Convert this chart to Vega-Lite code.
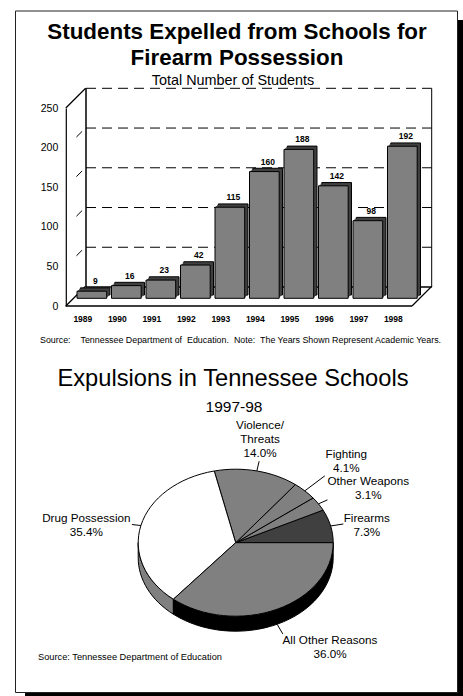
{
  "$schema": "https://vega.github.io/schema/vega-lite/v6.json",
  "width": 463,
  "height": 696,
  "padding": 0,
  "autosize": "none",
  "background": "white",
  "config": {
    "view": {"stroke": null},
    "font": "Liberation Sans",
    "axis": {"labelFont": "Liberation Sans", "labelColor": "black", "titleColor": "black", "grid": false}
  },
  "resolve": {"scale": {"x": "independent", "y": "independent"}, "axis": {"x": "independent", "y": "independent"}},
  "datasets": {
    "students": [
      {"year": "1989", "students": 9},
      {"year": "1990", "students": 16},
      {"year": "1991", "students": 23},
      {"year": "1992", "students": 42},
      {"year": "1993", "students": 115},
      {"year": "1994", "students": 160},
      {"year": "1995", "students": 188},
      {"year": "1996", "students": 142},
      {"year": "1997", "students": 98},
      {"year": "1998", "students": 192}
    ],
    "reasons": [
      {"rank": 0, "reason": "Firearms", "share": 7.3},
      {"rank": 1, "reason": "Other Weapons", "share": 3.1},
      {"rank": 2, "reason": "Fighting", "share": 4.1},
      {"rank": 3, "reason": "Violence/\nThreats", "share": 14.0},
      {"rank": 4, "reason": "Drug Possession", "share": 35.4},
      {"rank": 5, "reason": "All Other Reasons", "share": 36.0}
    ]
  },
  "layer": [
    {
      "description": "Sheet with its drop shadow",
      "data": {"values": [{"panel": "sheet"}]},
      "layer": [
        {"mark": {"type": "rect", "x": 25, "x2": 463, "y": 20, "y2": 696, "fill": "black"}, "encoding": {}},
        {"mark": {"type": "rect", "x": 15.5, "x2": 457.5, "y": 11, "y2": 692.5, "fill": "white", "stroke": "#222222", "strokeWidth": 1}, "encoding": {}}
      ]
    },
    {
      "description": "Dashed lines across the back wall",
      "data": {"values": [{"tick": 50}, {"tick": 100}, {"tick": 150}, {"tick": 200}, {"tick": 250}]},
      "mark": {"type": "rule", "stroke": "black", "strokeWidth": 1, "strokeDash": [10, 6]},
      "encoding": {
        "y": {"field": "tick", "type": "quantitative", "scale": {"domain": [0, 250], "range": [287, 88.3]}, "axis": null},
        "x": {"datum": 0, "type": "quantitative", "scale": {"domain": [0, 1], "range": [86, 431.7]}, "axis": null},
        "x2": {"datum": 1}
      }
    },
    {
      "description": "Solid bottom edge of the back wall",
      "data": {"values": [{"tick": 0}]},
      "mark": {"type": "rule", "stroke": "black", "strokeWidth": 1.5},
      "encoding": {
        "y": {"field": "tick", "type": "quantitative", "scale": {"domain": [0, 250], "range": [287, 88.3]}, "axis": null},
        "x": {"datum": 0, "type": "quantitative", "scale": {"domain": [0, 1], "range": [86, 431.7]}, "axis": null},
        "x2": {"datum": 1}
      }
    },
    {
      "description": "Vertical edges of the back wall",
      "data": {"values": [{"edge": 0, "w": 1.5}, {"edge": 1, "w": 1}]},
      "mark": {"type": "rule", "stroke": "black"},
      "encoding": {
        "x": {"field": "edge", "type": "quantitative", "scale": {"domain": [0, 1], "range": [86, 431.7]}, "axis": null},
        "y": {"datum": 0, "type": "quantitative", "scale": {"domain": [0, 250], "range": [287, 88.3]}, "axis": null},
        "y2": {"datum": 250},
        "strokeWidth": {"field": "w", "type": "quantitative", "scale": null, "legend": null}
      }
    },
    {
      "description": "Front value axis and the solid receding edges",
      "data": {"values": [{"tick": 0, "edge": 0}, {"tick": 250, "edge": 0}, {"tick": 0, "edge": 1}]},
      "mark": {"type": "rule", "stroke": "black", "strokeWidth": 1.2, "x2Offset": 19.8, "y2Offset": -19.7},
      "encoding": {
        "y": {
          "field": "tick", "type": "quantitative",
          "scale": {"domain": [0, 250], "range": [306, 108]},
          "axis": {"values": [0, 50, 100, 150, 200, 250], "orient": "left", "offset": -65.8, "zindex": 1, "title": null, "labelFontSize": 10.5, "tickSize": 0, "labelPadding": 8, "domainColor": "black", "domainWidth": 1.2}
        },
        "y2": {"field": "tick"},
        "x": {"field": "edge", "type": "quantitative", "scale": {"domain": [0, 1], "range": [65.8, 412]}, "axis": null},
        "x2": {"field": "edge"}
      }
    },
    {
      "description": "Front edge of the floor",
      "data": {"values": [{"tick": 0}]},
      "mark": {"type": "rule", "stroke": "black", "strokeWidth": 1.5},
      "encoding": {
        "y": {"field": "tick", "type": "quantitative", "scale": {"domain": [0, 250], "range": [306, 108]}, "axis": null},
        "x": {"datum": 0, "type": "quantitative", "scale": {"domain": [0, 1], "range": [65.8, 412]}, "axis": null},
        "x2": {"datum": 1}
      }
    },
    {
      "description": "Short dashes where the gridlines cross the side wall",
      "data": {"values": [{"tick": 50}, {"tick": 100}, {"tick": 150}, {"tick": 200}]},
      "mark": {"type": "rule", "stroke": "black", "strokeWidth": 1, "strokeDash": [0, 15, 8, 60], "x2Offset": 19.8, "y2Offset": -19.7},
      "encoding": {
        "y": {"field": "tick", "type": "quantitative", "scale": {"domain": [0, 250], "range": [306, 108]}, "axis": null},
        "y2": {"field": "tick"},
        "x": {"datum": 0, "type": "quantitative", "scale": {"domain": [0, 1], "range": [65.8, 412]}, "axis": null},
        "x2": {"datum": 0}
      }
    },
    {
      "description": "Extruded columns: stepped dark copies behind the grey front face",
      "data": {"name": "students"},
      "encoding": {
        "x": {
          "field": "year", "type": "nominal",
          "scale": {"type": "band", "range": [74.6, 419.6], "paddingInner": 0.14, "paddingOuter": 0.07},
          "axis": {"orient": "bottom", "offset": -390, "zindex": 1, "title": null, "domain": false, "ticks": false, "labelAngle": 0, "labelFontSize": 8.5, "labelFontWeight": "bold", "labelPadding": 8, "labelOffset": -9}
        },
        "y": {
          "field": "students", "type": "quantitative",
          "scale": {"domain": [0, 250], "range": [298.3, 100.3]},
          "axis": null
        }
      },
      "layer": [
        {"mark": {"type": "bar", "fill": "#404040", "stroke": "black", "strokeWidth": 1, "xOffset": 3.3, "yOffset": -3.3}},
        {"mark": {"type": "bar", "fill": "#404040", "xOffset": 2.2, "yOffset": -2.2}},
        {"mark": {"type": "bar", "fill": "#404040", "xOffset": 1.1, "yOffset": -1.1}},
        {"mark": {"type": "bar", "fill": "#808080", "stroke": "black", "strokeWidth": 1}},
        {
          "mark": {"type": "text", "font": "Liberation Sans", "fontSize": 8.5, "fontWeight": "bold", "fill": "black", "baseline": "middle", "xOffset": 3.5, "yOffset": -10},
          "encoding": {"text": {"field": "students", "type": "quantitative"}}
        }
      ]
    },
    {
      "description": "Share of each expulsion reason on a tilted disc",
      "data": {"name": "reasons"},
      "resolve": {"scale": {"fill": "independent"}},
      "transform": [
        {"stack": "share", "sort": [{"field": "rank", "order": "ascending"}], "offset": "normalize", "as": ["s0", "s1"]},
        {"calculate": "datum.s0 * 2 * PI", "as": "a0"},
        {"calculate": "datum.s1 * 2 * PI", "as": "a1"},
        {"calculate": "(datum.a0 + datum.a1) / 2", "as": "mid"},
        {"calculate": "max(datum.a0, PI)", "as": "b0"},
        {"calculate": "'M0,0L' + round(9750 * cos(datum.a0)) / 100 + ',' + round(-7350 * sin(datum.a0)) / 100 + 'A97.5,73.5,0,' + (datum.a1 - datum.a0 > PI ? 1 : 0) + ',0,' + round(9750 * cos(datum.a1)) / 100 + ',' + round(-7350 * sin(datum.a1)) / 100 + 'Z'", "as": "wedge"},
        {"calculate": "'M' + round(9750 * cos(datum.b0)) / 100 + ',' + round(-7350 * sin(datum.b0)) / 100 + 'A97.5,73.5,0,0,0,' + round(9750 * cos(datum.a1)) / 100 + ',' + round(-7350 * sin(datum.a1)) / 100 + 'l0,15A97.5,73.5,0,0,1,' + round(9750 * cos(datum.b0)) / 100 + ',' + (round(-7350 * sin(datum.b0)) / 100 + 15) + 'Z'", "as": "rim"},
        {"calculate": "97.5 * cos(datum.mid)", "as": "ex"},
        {"calculate": "-73.5 * sin(datum.mid) + (datum.rank == 5 ? 15 : 0)", "as": "ey"},
        {"calculate": "'M' + round(datum.ex * 100) / 100 + ',' + round(datum.ey * 100) / 100 + 'l' + [12.7, 9, 20, 2.3, -9, 5.7][datum.rank] + ',' + [-2, -4, -15, -9.7, -1, 9.7][datum.rank]", "as": "leader"},
        {"calculate": "datum.reason + '\\n' + format(datum.share, '.1f') + '%'", "as": "label"},
        {"calculate": "[366.7, 368.3, 346.3, 260, 86.3, 330][datum.rank]", "as": "labelX"},
        {"calculate": "[522, 485, 458, 429, 522, 644][datum.rank]", "as": "labelY"}
      ],
      "layer": [
        {
          "transform": [{"filter": "datum.s1 > 0.5"}],
          "mark": {"type": "point", "filled": true, "opacity": 1, "size": 4, "stroke": "black", "strokeWidth": 1, "x": 235.7, "y": 542.7},
          "encoding": {
            "shape": {"field": "rim", "type": "nominal", "scale": null, "legend": null},
            "fill": {"field": "reason", "type": "nominal", "scale": {"domain": ["Drug Possession", "All Other Reasons"], "range": ["#808080", "#000000"]}, "legend": null}
          }
        },
        {
          "mark": {"type": "point", "filled": true, "opacity": 1, "size": 4, "stroke": "black", "strokeWidth": 1, "x": 235.7, "y": 542.7},
          "encoding": {
            "shape": {"field": "wedge", "type": "nominal", "scale": null, "legend": null},
            "fill": {"field": "reason", "type": "nominal", "scale": {"domain": ["Firearms", "Other Weapons", "Fighting", "Violence/\nThreats", "Drug Possession", "All Other Reasons"], "range": ["#404040", "#808080", "#808080", "#808080", "#ffffff", "#808080"]}, "legend": null}
          }
        },
        {
          "mark": {"type": "point", "filled": false, "opacity": 1, "size": 4, "stroke": "black", "strokeWidth": 1, "x": 235.7, "y": 542.7},
          "encoding": {"shape": {"field": "leader", "type": "nominal", "scale": null, "legend": null}}
        },
        {
          "mark": {"type": "text", "font": "Liberation Sans", "fontSize": 11.7, "fill": "black", "lineBreak": "\n", "lineHeight": 14, "align": "center", "baseline": "alphabetic"},
          "encoding": {
            "text": {"field": "label", "type": "nominal"},
            "x": {"field": "labelX", "type": "quantitative", "scale": null, "axis": null},
            "y": {"field": "labelY", "type": "quantitative", "scale": null, "axis": null}
          }
        }
      ]
    },
    {
      "description": "Headings and source notes",
      "data": {"values": [{"panel": "notes"}]},
      "layer": [
        {"mark": {"type": "text", "text": ["Students Expelled from Schools for", "Firearm Possession"], "x": 237, "y": 39, "lineHeight": 26, "font": "Liberation Sans", "fontSize": 22.4, "fontWeight": "bold", "fill": "black", "align": "center", "baseline": "alphabetic"}, "encoding": {}},
        {"mark": {"type": "text", "text": "Total Number of Students", "x": 233, "y": 85, "font": "Liberation Sans", "fontSize": 14.4, "fill": "black", "align": "center", "baseline": "alphabetic"}, "encoding": {}},
        {"mark": {"type": "text", "text": "Source:\u00a0\u00a0\u00a0\u00a0Tennessee Department of\u00a0\u00a0Education.\u00a0\u00a0Note:\u00a0\u00a0The Years Shown Represent Academic Years.", "x": 40, "y": 343, "font": "Liberation Sans", "fontSize": 8.9, "fill": "black", "align": "left", "baseline": "alphabetic"}, "encoding": {}},
        {"mark": {"type": "text", "text": "Expulsions in Tennessee Schools", "x": 233, "y": 386, "font": "Liberation Sans", "fontSize": 23.7, "fill": "black", "align": "center", "baseline": "alphabetic"}, "encoding": {}},
        {"mark": {"type": "text", "text": "1997-98", "x": 234, "y": 412, "font": "Liberation Sans", "fontSize": 15.5, "fill": "black", "align": "center", "baseline": "alphabetic"}, "encoding": {}},
        {"mark": {"type": "text", "text": "Source: Tennessee Department of Education", "x": 38, "y": 660, "font": "Liberation Sans", "fontSize": 9.25, "fill": "black", "align": "left", "baseline": "alphabetic"}, "encoding": {}}
      ]
    }
  ]
}
